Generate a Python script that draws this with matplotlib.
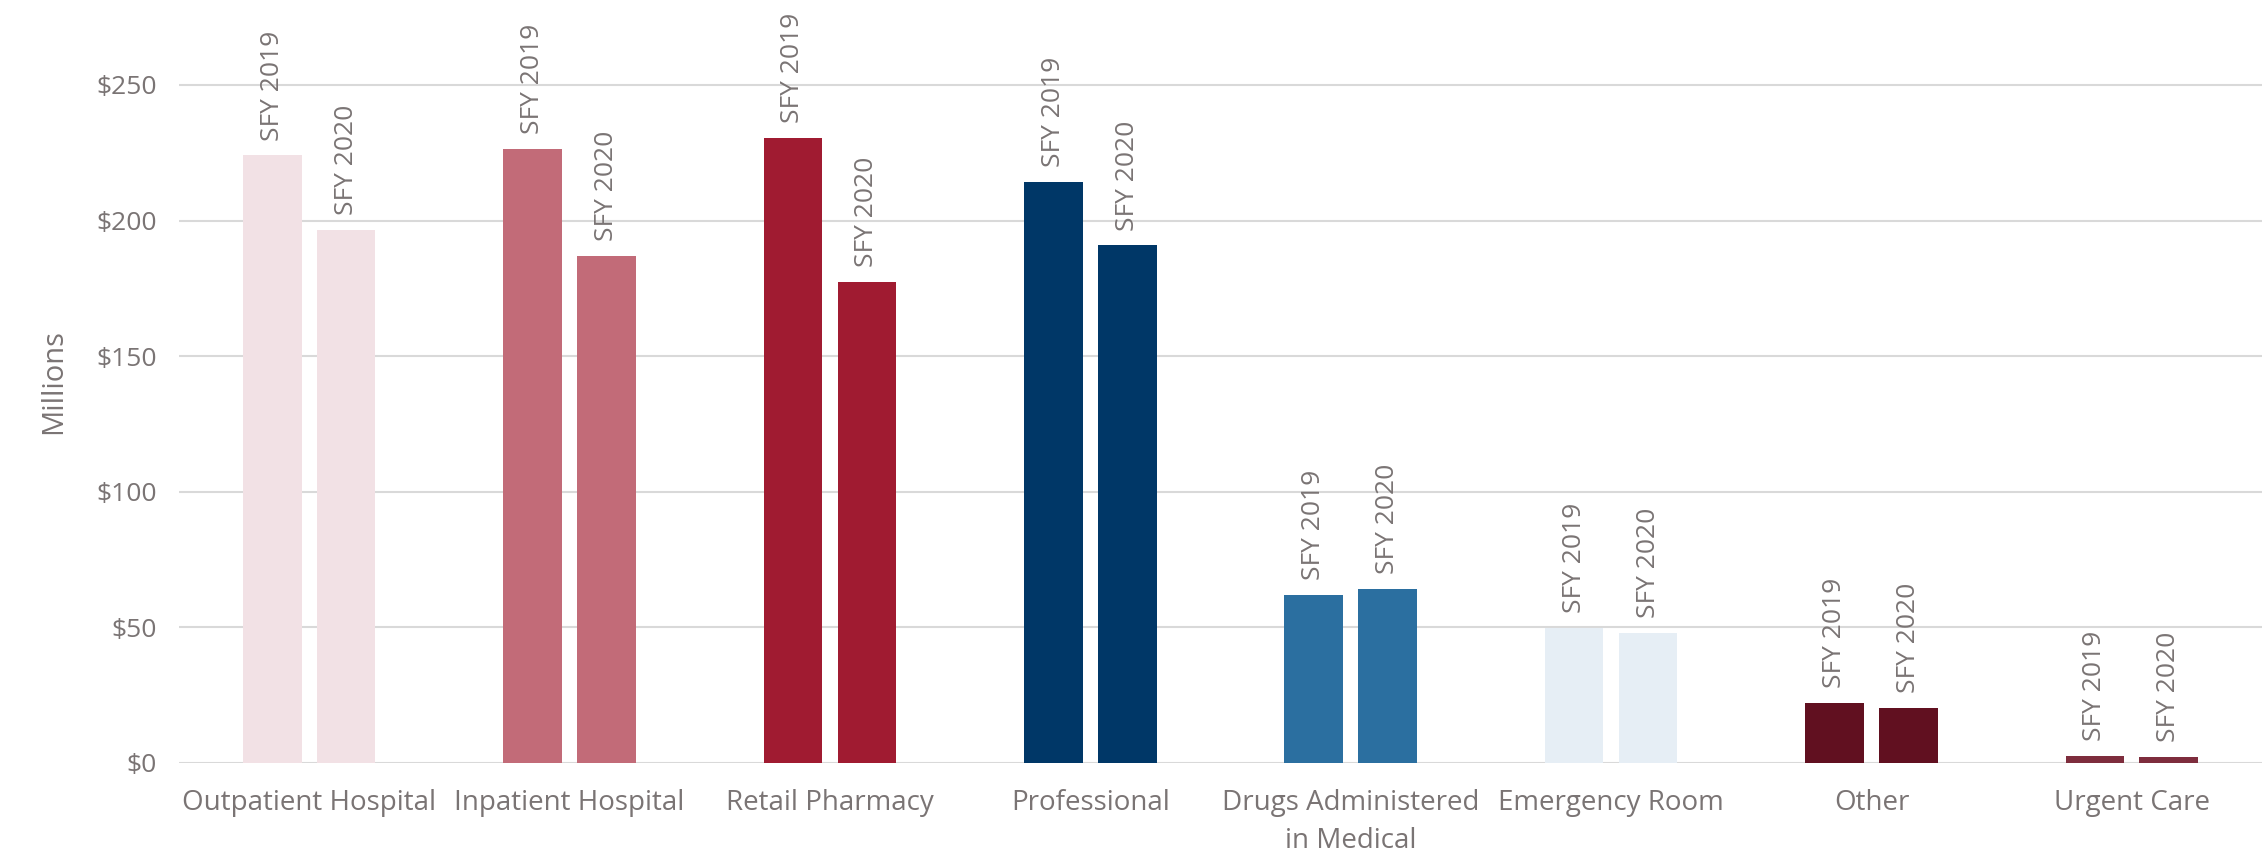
import matplotlib
matplotlib.use("Agg")
import matplotlib.pyplot as plt
import numpy as np

categories = ["Outpatient Hospital", "Inpatient Hospital", "Retail Pharmacy", "Professional",
              "Drugs Administered\nin Medical", "Emergency Room", "Other", "Urgent Care"]
sfy2019 = [224, 226.5, 230.5, 214.3, 62, 49.8, 22, 2.7]
sfy2020 = [196.5, 187, 177.5, 190.8, 64.2, 47.9, 20.2, 2.3]
colors = ["#F2E1E5", "#C26B78", "#A01B31", "#003767", "#2B6FA0", "#E6EEF5", "#611020", "#7E2D3D"]
series_labels = ["SFY 2019", "SFY 2020"]
yticks = [0, 50, 100, 150, 200, 250]

plt.rcParams['font.family'] = ['Open Sans', 'DejaVu Sans']
text_color = "#7A7474"

fig = plt.figure(figsize=(22.67, 8.57), dpi=100)
ax = fig.add_axes([179/2267, 1 - 763/857, (2262-179)/2267, 763/857])

x = np.arange(len(categories))
w = 0.225
off = 0.142
for i in range(len(categories)):
    for j, (vals, dx) in enumerate([(sfy2019, -off), (sfy2020, off)]):
        ax.bar(x[i] + dx, vals[i], width=w, color=colors[i], zorder=3)
        ax.text(x[i] + dx, vals[i] + 5.5, series_labels[j], rotation=90, ha='center', va='bottom',
                fontsize=19, color=text_color, clip_on=False, zorder=4)

ax.set_xlim(-0.5, len(categories) - 0.5)
ax.set_ylim(0, 281.3)
ax.set_yticks(yticks)
ax.set_yticklabels([f"${v}" for v in yticks], fontsize=19, color=text_color)
ax.set_xticks(x)
ax.set_xticklabels(categories, fontsize=20, color=text_color, linespacing=1.45)
ax.tick_params(axis='both', length=0)
ax.tick_params(axis='y', pad=16)
ax.tick_params(axis='x', pad=19)
for s in ax.spines.values():
    s.set_visible(False)
for t in yticks:
    ax.axhline(t, color="#D9D9D9", lw=1.5, zorder=1)
ax.set_ylabel("Millions", fontsize=21, color=text_color, labelpad=20)

fig.savefig("out.png", dpi=100)
